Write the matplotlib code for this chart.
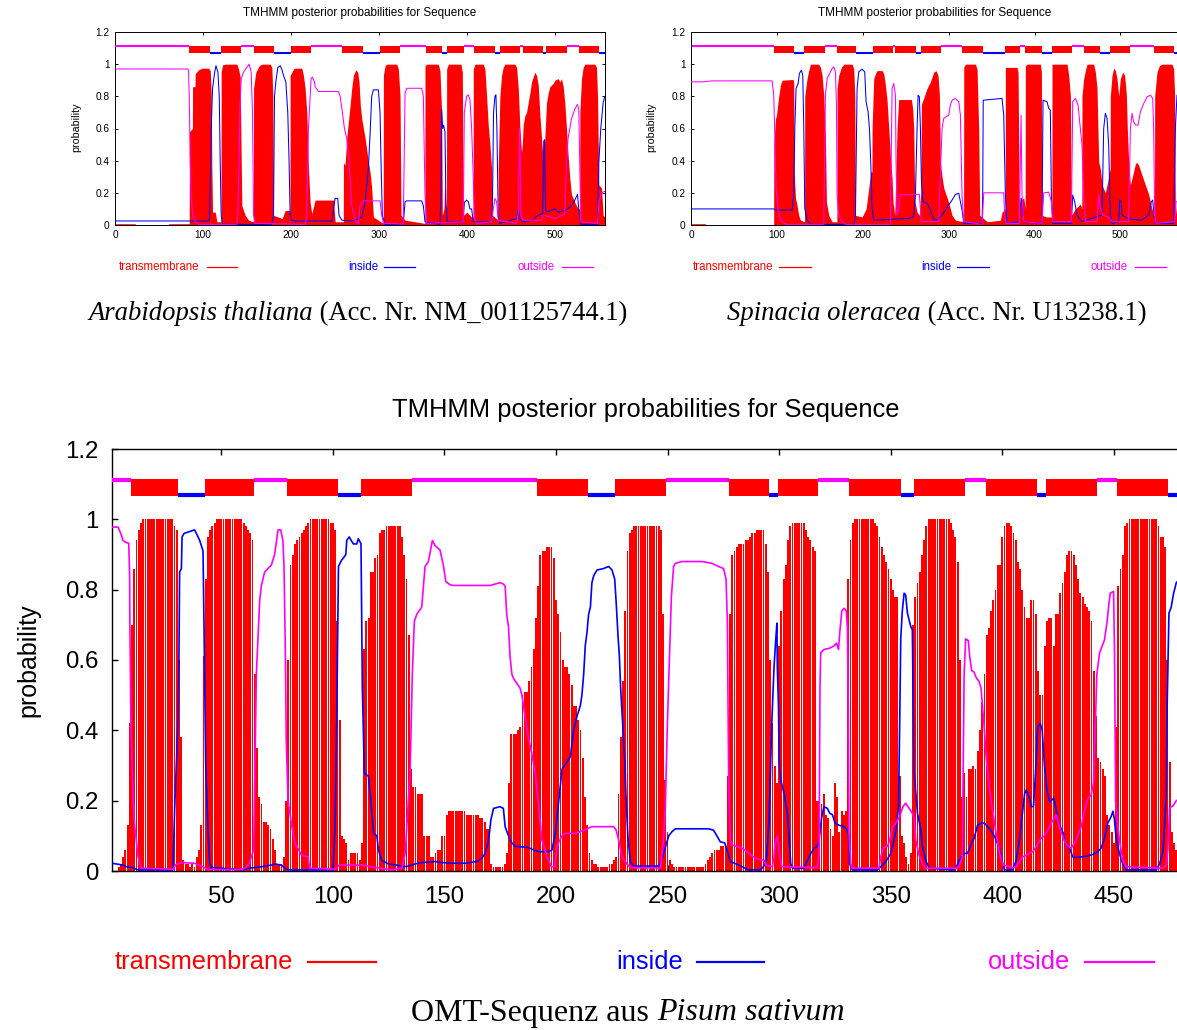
import numpy as np
import matplotlib
matplotlib.use("Agg")
import matplotlib.pyplot as plt
from matplotlib.lines import Line2D

plt.rcParams['font.family'] = ['Liberation Sans', 'DejaVu Sans']

RED, BLUE, MAG = '#ff0000', '#0000ff', '#ff00ff'

# ====================== Arabidopsis thaliana (top left) ======================
ara_length = 557
ara_tm = [(0, .008), (23, .008), (23, 0), (61, 0), (61, .008), (84, .008),
          (84.4, .008), (84.6, .58), (88, .6), (88.2, .86), (91, .86), (91.2, .94), (95, .965), (98.8, .975),
          (106.4, .975), (108.3, .96), (109.4, .8), (110.1, .35), (110.9, .08), (114, .08), (115.8, .02), (120.5, .02),
          (120.7, .95), (122.3, .995), (125.3, 1.0), (138.5, 1.0), (140.4, .97), (142.3, .92), (143.5, .39),
          (144.2, .12), (148, .06), (151.8, .03), (157.3, .02),
          (157.5, .85), (160.1, .95), (163.9, .99), (166.9, 1.0), (176.4, 1.0), (178.3, .98), (179.4, .8),
          (180.2, .06), (190, .04), (193.4, .09), (198.9, .09),
          (199.1, .93), (202.9, .97), (204.8, .975), (212.3, .975), (214.2, .93), (216.1, .85), (218, .7),
          (219.9, .35), (221.8, .14), (223.7, .07), (227.5, .155), (248.3, .155), (250.2, .02), (259.5, .02),
          (259.7, .39), (261.5, .37), (263.4, .54), (265.3, .64), (267.2, .74), (269.1, .85), (271, .93),
          (273.7, .965), (275.9, .95), (277.4, .89), (278.9, .74), (280.5, .66), (282.4, .6), (284.3, .54),
          (286.1, .47), (288, .39), (289.9, .33), (291.8, .23), (293.7, .05), (304.9, .01),
          (305.1, .93), (307, .99), (308.9, 1.0), (320.2, 1.0), (322.1, .97), (324, .8), (325.1, .06),
          (329.7, .03), (352.2, .01),
          (352.4, .99), (354.3, 1.0), (367.5, 1.0), (369.4, .96), (371.3, .7), (372.1, .06), (374, .1),
          (375, .33), (376, .1), (376.8, .05),
          (377, .97), (378.9, 1.0), (393.3, 1.0), (394.8, .95), (395.9, .06), (400, .08), (405, .05), (407.1, .05),
          (407.3, .97), (409.2, 1.0), (418.6, 1.0), (420.5, .97), (422.4, .8), (424.3, .62), (426.2, .5),
          (428.1, .35), (429.2, .06), (435.4, .03),
          (435.6, .35), (437.5, .8), (439.4, .93), (441.3, .98), (443.2, 1.0), (454.6, 1.0), (456.5, .98),
          (458.4, .85), (460.3, .6), (462.1, .45), (463, .5),
          (464, .62), (465.9, .68), (467.8, .7), (469.7, .76), (471.6, .82), (473.5, .89), (477.3, .95),
          (479.2, .93), (481.1, .87), (483, .68), (484.9, .54), (486.7, .39),
          (488.6, .54), (490.5, .76), (492.4, .82), (494.3, .86), (498.1, .88), (500, .9), (503.8, .91),
          (505.7, .89), (507.6, .91), (509.5, .86), (511.3, .76), (513.2, .6), (515.1, .43), (517, .29),
          (518.9, .19), (522.7, .14), (526.5, .1), (528.2, .1),
          (528.4, .7), (530.3, .91), (532.2, .98), (534.1, 1.0), (545.4, 1.0), (547.3, .98), (548.5, .8),
          (550, .25), (553, .23), (554.9, .06), (557, .05)]
ara_inside = [(0, .025), (106.4, .025), (107.5, .04), (109.4, .6), (110.9, .85), (113.3, .95), (114.8, .99),
              (117, .95), (118.5, .8), (119.6, .39), (120.7, .06), (122.3, .004), (178.3, .004), (180.2, .06),
              (181.3, .8), (182.8, .89), (185.1, .98), (187.7, .99), (189.6, .97), (191.5, .93), (194.2, .89),
              (196.4, .7), (197.9, .39), (199.1, .06), (201, .03), (204.8, .025), (246.8, .025), (248.3, .1),
              (250.2, .165), (253.2, .165), (254.7, .06), (257.8, .03), (269.1, .025), (272.9, .03), (280.5, .05),
              (284.3, .14), (288, .35), (289.9, .56), (291.8, .8), (293.7, .84), (299.4, .84), (301.3, .7),
              (302.4, .39), (303.9, .06), (307, .004), (327.7, .004), (329.7, .145), (331.6, .15), (348.6, .15),
              (350.5, .12), (352.4, .02), (369.4, .004), (370.6, .19), (371.3, .72), (372.5, .6), (373.6, .62),
              (375.1, .58), (376.2, .14), (377.7, .02), (395.9, .02), (397.1, .14), (399.7, .155), (401.6, .145),
              (403.5, .1), (405.4, .1), (407.3, .02), (428.1, .02), (429.2, .19), (430.3, .7), (431.9, .8),
              (433, .81), (434.1, .6), (435.6, .06), (437.5, .01), (456.5, .04), (458.4, .1), (460.3, .04),
              (464, .02), (475.4, .03), (478.5, .05), (481.1, .06), (486, .07), (487.4, .52), (488.2, .53),
              (489.4, .1), (490.5, .08), (500, .1), (503.8, .08), (511.3, .09), (514.5, .1), (518.9, .12),
              (522.7, .155), (525.7, .19), (527.2, .1), (529.5, .004), (548.5, .004), (550, .39), (552.2, .6),
              (554.9, .76), (556.8, .8)]
ara_outside = [(0, .97), (82.9, .97), (83.6, .96), (84.4, .8), (85.5, .39), (86.6, .19), (88.2, .06), (91.2, .02),
               (95, .004), (138.5, .004), (139.6, .06), (142.3, .76), (143.5, .91), (146.1, .95), (149.9, .98),
               (152.5, 1.0), (154.8, .95), (156.3, .7), (157.5, .06), (159.3, .01), (216.1, .004), (218, .06),
               (219.9, .6), (222.9, .91), (224.4, .92), (226.7, .89), (227.5, .86), (231.3, .83), (254, .83),
               (255.9, .8), (258.5, .7), (260.8, .6), (263.4, .54), (265.3, .43), (267.2, .29), (269.1, .12),
               (272.9, .03), (276.6, .005), (278.5, .12), (282.4, .15), (301.3, .15), (303.2, .06), (305.1, .01),
               (327.7, .005), (329.7, .82), (331.6, .85), (348.6, .85), (350.5, .8), (352.4, .19), (354.3, .01),
               (395.9, .02), (397.1, .7), (399.7, .8), (401.6, .81), (403.5, .78), (405.4, .6), (407.3, .29),
               (408.4, .04), (411.1, .01), (428.1, .02), (430, .1), (431.9, .165), (433.8, .145), (435.6, .03),
               (456.5, .01), (458.4, .08), (460, .6), (461.5, .06), (463.8, .03), (485, .03), (486.7, .06),
               (494.3, .05), (501.9, .04), (511.3, .07), (513.2, .39), (515.1, .54), (517, .6), (518.9, .66),
               (522.7, .72), (525.7, .75), (527.2, .72), (528.4, .35), (529.5, .02), (548.5, .01), (550, .14),
               (553, .2), (557, .21)]
ara_seg_kind = ['out', 'tm', 'in', 'tm', 'out', 'tm', 'in', 'tm', 'out', 'tm', 'in', 'tm', 'out', 'tm',
                'in', 'tm', 'out', 'tm', 'in', 'tm', 'out', 'tm', 'in', 'tm', 'out', 'tm', 'in']
ara_seg_start = [1, 85, 109, 121, 144, 158, 181, 200, 223, 259, 282, 302, 325, 354,
                 372, 378, 397, 409, 432, 438, 461, 464, 487, 491, 514, 528, 551]
ara_seg_end = [84, 108, 120, 143, 157, 180, 199, 222, 258, 281, 301, 324, 353, 371,
               377, 396, 408, 431, 437, 460, 463, 486, 490, 513, 527, 550, 557]

# ====================== Spinacia oleracea (top right) ======================
spi_length = 580
spi_tm = [(0, .008), (16.5, .008), (16.5, 0), (96, 0),
          (96.1, .5), (98.1, .66), (99.2, .68), (101.9, .8), (103.9, .87), (105.8, .9), (118.6, .905),
          (119.4, .88), (119.8, .33), (121.4, .17), (123.3, .12), (125.2, .06), (127.2, .03), (132, .02),
          (132.2, .8), (134.9, .91), (136.9, .96), (138.8, 1.0), (148.5, 1.0), (150.5, .98), (152.4, .93),
          (154.4, .8), (156.3, .54), (157.5, .14), (160.2, .06), (164.1, .02), (169.7, .02),
          (169.9, .85), (171.8, .93), (174.9, .98), (177.7, 1.0), (187.4, 1.0), (189.3, .97), (190.5, .8),
          (191.3, .06), (199, .05), (203.7, .1), (206.8, .23), (209.1, .33), (210.5, .33),
          (210.7, .6), (212.6, .91), (214.6, .94), (216.5, .96), (222.3, .96), (224.3, .94), (226.2, .87),
          (228.2, .77), (230.1, .6), (232, .43), (234, .29), (235.1, .14), (237.1, .06),
          (239.8, .6), (241.7, .78), (256.5, .78), (258, .72), (259.2, .6), (260.4, .15), (263.1, .08),
          (265.8, .06), (267.5, .2),
          (268.1, .75), (270.9, .79), (274.8, .85), (278.6, .89), (282.5, .95), (285.2, .96), (287.5, .93),
          (289.1, .81), (290.3, .39), (292.2, .3), (294.2, .23), (296.1, .2), (300, .14), (303.9, .06),
          (307.8, .03), (317.3, .02),
          (317.5, .98), (319.4, 1.0), (331.1, 1.0), (333, .97), (334.9, .6), (336.1, .06), (345, .02),
          (360.2, .03), (362.1, .08), (365.8, .1),
          (366, .98), (379.6, .98), (380.8, .95), (382.3, .06), (384, .15), (387.4, .17), (389.1, .1),
          (389.3, .99), (391.3, 1.0), (406.8, 1.0), (408, .95), (408.7, .06), (414, .05), (420.2, .05),
          (420.4, 1.0), (437.9, 1.0), (439.8, .93), (441.8, .8), (442.9, .06), (447.6, .1), (453.4, .13),
          (455.1, .1),
          (455.3, .8), (457.3, .91), (459.2, .96), (461.2, 1.0), (468.9, 1.0), (470.9, .95), (472.8, .85),
          (474.8, .39), (476.7, .35), (478.6, .25), (482.5, .2), (486.4, .3), (488.1, .35),
          (488.3, .8), (490.3, .93), (492.2, .975), (494.2, .96), (496.1, .91), (498.1, .8), (500, .91),
          (502.7, .95), (505, .93), (507, .81), (508.1, .6), (509.7, .39), (511.7, .25), (513.6, .29),
          (517.5, .38), (519.4, .39), (521.4, .37), (525.2, .31), (529.1, .25), (533, .19), (536.9, .1),
          (538.8, .06), (539.8, .06),
          (540, .8), (542.7, .95), (545.4, .99), (548.5, 1.0), (560.2, 1.0), (562.1, .97), (563.3, .8),
          (564.1, .06), (566, .15)]
spi_inside = [(0, .1), (96.1, .1), (98.1, .093), (117.5, .093), (119.4, .186), (120.6, .6), (122.1, .849),
              (124.5, .88), (126, .942), (128.3, .963), (129.9, .932), (131.1, .6), (132.2, .104), (134.9, .031),
              (138.8, .004), (189.3, .004), (191.3, .062), (193.2, .849), (195.1, .952), (199, .969),
              (202.1, .952), (203.7, .766), (206, .704), (207.6, .6), (209.1, .393), (210.7, .104), (212.6, .031),
              (222.3, .031), (237.9, .037), (253.3, .041), (259.2, .052), (261.2, .186), (263.1, .6),
              (264.3, .807), (265.8, .797), (267, .6), (268.1, .29), (269.7, .145), (274.8, .135), (278.6, .093),
              (280.6, .062), (282.5, .031), (286.4, .031), (288.3, .041), (292.2, .062), (296.1, .093),
              (300, .124), (303.9, .155), (307.8, .19), (311.7, .197), (315.5, .093), (317.5, .01), (338.8, .01),
              (339.6, .186), (340.2, .776), (362.1, .787), (364.1, .683), (366, .186), (367.9, .01),
              (382.3, .021), (384.3, .166), (385.4, .145), (387.4, .021), (408.7, .01), (409.9, .776),
              (414.6, .766), (416.5, .725), (418.4, .714), (419.6, .186), (421.2, .01), (442.9, .01),
              (444.5, .186), (446.8, .145), (449.5, .062), (455.3, .021), (478.6, .062), (480.6, .6),
              (482.5, .694), (484.5, .663), (486.4, .497), (488.3, .062), (490.3, .01), (498.1, .021),
              (499.2, .155), (501.2, .145), (501.9, .062), (509.7, .037), (525.2, .031), (533, .062),
              (536.1, .145), (537.7, .155), (539.2, .062), (540.8, .01), (562.1, .01), (564.1, .6), (566, .807)]
spi_outside = [(0, .89), (12.6, .89), (24.3, .896), (94.2, .896), (96.1, .807), (97.3, .559), (98.8, .228),
               (101.9, .062), (105.8, .021), (110, .004), (154.4, .004), (156.3, .807), (158.3, .911),
               (164.1, .973), (166, .983), (168, .952), (169.1, .766), (169.9, .186), (171.8, .062),
               (175.7, .021), (180, .004), (232, .004), (234, .849), (235.9, .88), (237.9, .807), (238.6, .393),
               (239.8, .062), (241.7, .104), (243.7, .19), (265.8, .19), (267, .104), (268.1, .021),
               (288.3, .021), (292.2, .6), (294.2, .663), (300, .683), (301.9, .745), (303.9, .776),
               (307.8, .787), (311.7, .766), (313.6, .683), (315.5, .186), (317.5, .021), (338.8, .004),
               (339.5, .062), (340.8, .2), (364.1, .2), (365.2, .062), (366.8, .01), (382.3, .01),
               (384.3, .683), (385.4, .186), (387.4, .021), (408.7, .01), (410.7, .2), (416.5, .204),
               (419.6, .145), (421.2, .021), (442.9, .021), (444.5, .766), (447.6, .787), (450.7, .745),
               (453.4, .6), (455.3, .497), (457.3, .186), (459.2, .021), (472.8, .021), (474.8, .19),
               (476.7, .104), (480, .06), (486, .05), (490.3, .021), (509.7, .021), (511.7, .6), (513.6, .694),
               (515.5, .642), (517.5, .621), (520.6, .621), (523.3, .704), (527.2, .755), (531.1, .797),
               (535, .807), (537.7, .787), (538.8, .6), (540, .062), (541.5, .01), (563.3, .021),
               (564.9, .145), (566, .145)]
spi_seg_kind = ['out', 'tm', 'in', 'tm', 'out', 'tm', 'in', 'tm', 'out', 'tm', 'in', 'tm', 'out', 'tm',
                'in', 'tm', 'out', 'tm', 'in', 'tm', 'out', 'tm', 'in', 'tm', 'out', 'tm', 'in']
spi_seg_start = [1, 97, 120, 132, 156, 170, 193, 212, 235, 238, 262, 268, 291, 316,
                 340, 366, 384, 389, 409, 421, 444, 458, 477, 489, 512, 540, 563]
spi_seg_end = [96, 119, 131, 155, 169, 192, 211, 234, 237, 261, 267, 290, 315, 339,
               365, 383, 388, 408, 420, 443, 457, 476, 488, 511, 539, 562, 580]

# ====================== Pisum sativum OMT (bottom) ======================
pis_length = 481
pis_tm_pct = [0, 0, 0, 1, 2, 4, 6, 13, 42, 70,
              86, 94, 97, 99, 100, 100, 100, 100, 100, 100,
              100, 100, 100, 100, 100, 100, 100, 100, 98, 97,
              60, 38, 3, 2, 2, 1, 2, 1, 4, 6,
              13, 61, 83, 95, 97, 98, 99, 100, 100, 100,
              100, 100, 100, 100, 100, 100, 100, 100, 100, 99,
              98, 97, 96, 94, 56, 35, 21, 19, 14, 14,
              13, 12, 9, 6, 2, 2, 2, 4, 20, 60,
              87, 90, 93, 94, 95, 96, 97, 98, 99, 100,
              100, 100, 100, 100, 100, 100, 100, 100, 99, 99,
              97, 71, 43, 10, 9, 8, 3, 5, 5, 5,
              5, 3, 8, 63, 71, 72, 85, 85, 89, 90,
              96, 97, 97, 98, 98, 98, 98, 98, 98, 98,
              95, 90, 83, 67, 29, 24, 24, 22, 22, 22,
              10, 10, 10, 4, 4, 5, 6, 6, 10, 10,
              16, 17, 17, 17, 17, 17, 17, 17, 17, 16,
              16, 16, 16, 16, 16, 15, 15, 14, 12, 12,
              2, 1, 1, 1, 1, 1, 2, 5, 25, 39,
              39, 39, 40, 41, 50, 51, 51, 54, 58, 63,
              72, 81, 90, 91, 91, 92, 92, 92, 89, 77,
              73, 68, 60, 58, 58, 56, 53, 47, 47, 43,
              40, 32, 21, 13, 5, 3, 2, 2, 1, 1,
              1, 1, 1, 2, 2, 3, 4, 22, 38, 54,
              74, 91, 96, 97, 98, 98, 98, 98, 98, 98,
              98, 98, 98, 98, 98, 98, 97, 73, 26, 11,
              3, 2, 1, 1, 1, 1, 1, 1, 1, 1,
              1, 1, 1, 1, 1, 1, 2, 3, 4, 5,
              6, 6, 6, 7, 7, 7, 27, 73, 90, 91,
              92, 93, 93, 93, 94, 94, 95, 96, 96, 97,
              97, 97, 97, 93, 85, 60, 42, 30, 25, 64,
              74, 83, 87, 94, 98, 99, 99, 99, 99, 99,
              99, 97, 95, 94, 92, 91, 20, 20, 19, 22,
              16, 15, 12, 10, 25, 21, 11, 17, 16, 17,
              83, 94, 99, 100, 100, 100, 100, 100, 100, 100,
              100, 100, 99, 98, 95, 92, 90, 88, 86, 83,
              80, 78, 78, 27, 10, 8, 4, 2, 5, 70,
              78, 82, 85, 90, 94, 98, 100, 100, 100, 100,
              100, 100, 100, 100, 100, 100, 99, 97, 95, 88,
              60, 21, 28, 21, 29, 29, 30, 29, 34, 40,
              48, 56, 67, 69, 74, 77, 80, 87, 87, 95,
              98, 99, 99, 98, 96, 94, 88, 86, 80, 75,
              72, 72, 77, 77, 73, 57, 50, 50, 64, 71,
              72, 72, 64, 73, 73, 79, 82, 85, 90, 91,
              91, 90, 87, 83, 79, 78, 76, 75, 74, 71,
              57, 44, 32, 31, 29, 27, 16, 13, 11, 8,
              41, 81, 86, 90, 98, 99, 100, 100, 100, 100,
              100, 100, 100, 100, 100, 100, 100, 100, 100, 98,
              95, 95, 92, 60, 31, 11, 8, 6, 5, 4]
pis_inside = [(1, .022), (5.9, .017), (7.5, .012), (10, .01), (12.7, .003), (28.3, .003), (29.1, .18),
              (30.6, .43), (31, .6), (31.3, .85), (32.1, .86), (32.4, .95), (33.3, .96), (38, .97), (38.8, .96),
              (40.3, .94), (41.8, .91), (42.5, .57), (43, .3), (44, .117), (44.8, .022), (45.5, .01), (50, .008),
              (59, .003), (62.5, .008), (67.9, .012), (72.4, .017), (73.9, .02), (76.9, .017), (78.4, .008),
              (79.9, .003), (100, .003), (100.2, .02), (101, .135), (101.7, .43), (102.5, .866), (104, .885),
              (104.7, .89), (105.8, .9), (106.2, .94), (107.3, .95), (108.2, .94), (109.2, .93), (110.7, .93),
              (111.4, .945), (112.6, .93), (113.2, .52), (114.1, .28), (114.7, .275), (115.9, .27),
              (116.7, .22), (117.4, .17), (118.2, .107), (119.7, .1), (120.4, .06), (121.9, .03), (124.9, .02),
              (128.6, .017), (131.6, .012), (133.9, .014), (136.8, .02), (139.8, .024), (145.8, .027),
              (148.8, .024), (153.3, .022), (159.3, .022), (164.5, .027), (166.7, .036), (168.2, .05),
              (169.7, .083), (170.8, .145), (172, .178), (174.9, .183), (176.4, .178), (177.2, .126),
              (178.7, .1), (180.2, .08), (181.7, .07), (187.6, .067), (189.9, .06), (192.1, .055),
              (196.7, .055), (198.2, .06), (199.7, .107), (201.2, .2), (202.7, .29), (204.9, .31),
              (206.4, .325), (207.9, .4), (209.4, .44), (210.9, .47), (211.6, .5), (212.4, .56), (213.1, .64),
              (213.9, .68), (214.6, .73), (215.4, .75), (216.1, .82), (216.9, .84), (218.4, .856),
              (221.3, .86), (223.6, .866), (225.1, .856), (226.3, .83), (226.9, .77), (227.8, .667),
              (228.4, .61), (229, .515), (229.6, .45), (230.8, .316), (231.3, .22), (232.2, .1), (233.3, .027),
              (234.8, .014), (246, .014), (247.2, .03), (248.7, .06), (250.5, .1), (252, .112), (253.5, .12),
              (268.4, .12), (270.6, .116), (272.1, .1), (273.6, .083), (275.6, .08), (277.1, .05),
              (278.1, .027), (281.9, .017), (286.3, .003), (291.6, .003), (293.2, .014), (294.3, .03),
              (295.5, .145), (296.7, .42), (297.7, .58), (298.5, .66), (299, .705), (299.2, .58), (299.7, .47),
              (300, .316), (300.7, .26), (302.2, .22), (303.7, .164), (304.4, .1), (305.2, .02), (306, .008),
              (311.2, .008), (312.7, .03), (314.2, .05), (315.7, .065), (317.1, .07), (317.9, .088),
              (319.1, .155), (320.1, .183), (321.6, .178), (322.7, .164), (323.9, .16), (325.1, .135),
              (326.9, .13), (329.1, .126), (330.1, .12), (331, .107), (331.6, .02), (332.8, .003), (344, .003),
              (345.5, .012), (347.8, .027), (350, .05), (351.5, .088), (352.6, .126), (353.5, .183), (354, .41),
              (354.5, .66), (355.2, .74), (356, .79), (356.7, .785), (357.5, .733), (359, .695), (359.7, .686),
              (360, .515), (360.5, .28), (362, .164), (363.5, .117), (364.2, .07), (365.7, .03), (367.2, .008),
              (377.7, .003), (379.2, .008), (380.6, .03), (382.9, .05), (384.4, .05), (385.9, .074),
              (387.4, .093), (388.9, .13), (390.5, .136), (392, .136), (393.5, .126), (394.3, .12),
              (395.8, .107), (397.3, .088), (398.8, .06), (400, .027), (401, .003), (404.7, .003), (406.2, .03),
              (407.7, .088), (409.2, .174), (410, .22), (410.7, .23), (412.2, .207), (413, .183), (414, .183),
              (414.9, .28), (415.9, .41), (417, .42), (417.9, .4), (418.9, .3), (420, .23), (421.2, .197),
              (421.9, .2), (423, .207), (423.9, .183), (424.9, .145), (426.4, .12), (427.4, .107),
              (428.3, .074), (430.1, .065), (431.6, .04), (433.1, .038), (437.6, .042), (440.6, .047),
              (442.8, .055), (444.3, .065), (445.8, .093), (447.3, .136), (448.8, .155), (449.6, .17),
              (450.3, .145), (451.1, .088), (452.5, .05), (454, .02), (455.5, .003), (469, .003), (470.5, .02),
              (472, .055), (472.7, .126), (473.5, .22), (473.9, .47), (474.7, .733), (475.7, .75), (476.8, .79),
              (478, .82), (481, .84)]
pis_outside = [(1, .978), (3.7, .978), (5.2, .956), (5.9, .94), (7.4, .934), (8.5, .932), (8.9, .842), (9.0, .71),
               (9.5, .41), (10.5, .2), (11.2, .126), (12.7, .04), (14.1, .008), (28.5, .005), (29.5, .018),
               (32.4, .024), (38, .022), (41.8, .012), (44, .004), (59, .004), (60.5, .008), (62.5, .022),
               (64.5, .06), (65.7, .56), (67.2, .77), (67.9, .81), (69.4, .85), (70.9, .86), (72.4, .87),
               (73.9, .9), (75.4, .97), (76.6, .97), (77.6, .94), (78.1, .866), (78.7, .62), (79.1, .37),
               (79.9, .2), (81.4, .135), (82.9, .08), (85.9, .045), (88.9, .04), (89.6, .008), (101, .005),
               (102.8, .017), (113, .017), (118.9, .01), (126.4, .003), (130.9, .008), (132.4, .05),
               (134.6, .28), (135.6, .56), (136.5, .71), (137.6, .73), (139.8, .75), (140.6, .81), (141.3, .866),
               (142.8, .88), (144.6, .94), (145.8, .925), (148, .913), (149.5, .87), (150.6, .823),
               (152.5, .814), (154, .812), (170.5, .812), (172.7, .816), (174.9, .82), (176.4, .816),
               (177.2, .81), (177.9, .73), (178.7, .695), (179.4, .61), (180.2, .56), (180.9, .548),
               (182.4, .534), (183.9, .52), (184.7, .5), (186.1, .44), (187.6, .38), (189.1, .335),
               (190.6, .28), (192.1, .2), (193.6, .09), (196, .04), (198, .012), (199.5, .012), (200.4, .07),
               (202.6, .1), (204, .107), (208.6, .107), (213, .117), (216, .126), (225.8, .126), (226.9, .117),
               (228, .09), (229.6, .04), (231.8, .02), (233.3, .01), (246.8, .009), (248.2, .09), (249, .18),
               (249.7, .37), (250.5, .54), (251.7, .78), (252.7, .866), (253.5, .875), (256.4, .88),
               (265.4, .88), (269.9, .875), (272.1, .868), (275.1, .86), (276.2, .83), (276.8, .705),
               (277.4, .24), (278.1, .09), (278.9, .074), (283.4, .065), (286.4, .05), (289.4, .036),
               (293.3, .03), (294, .017), (297, .012), (297.7, .04), (298.2, .08), (299.2, .1), (300.3, .04),
               (301.2, .012), (317.1, .01), (317.9, .05), (318.3, .52), (318.6, .62), (320.1, .63),
               (322.4, .633), (324.6, .64), (325.7, .648), (326.6, .63), (327.2, .68), (328.1, .74),
               (329.1, .747), (330.1, .74), (330.6, .69), (331, .45), (331.3, .107), (332.1, .02), (332.8, .008),
               (344.8, .008), (345.5, .04), (346.6, .065), (348.5, .07), (349.6, .088), (350.8, .126),
               (352.3, .136), (354, .155), (355.5, .183), (356.7, .193), (358.2, .179), (359.7, .164),
               (360.5, .15), (361.2, .088), (362.7, .045), (364.2, .022), (365.7, .008), (379.2, .008),
               (380.6, .012), (382.1, .04), (382.9, .56), (383.6, .66), (384.8, .655), (385.4, .61),
               (386.3, .57), (387.4, .565), (388.3, .55), (389.5, .54), (390.5, .52), (392, .4), (392.8, .325),
               (394.3, .23), (396.5, .136), (398.8, .05), (400.3, .017), (404.7, .01), (406.2, .012),
               (407.7, .027), (409.2, .04), (412.2, .05), (413.7, .055), (415.2, .07), (417.4, .093),
               (418.9, .1), (420.4, .116), (421.9, .136), (424.2, .16), (426.4, .11), (428.6, .074),
               (430.9, .065), (433.1, .088), (435.4, .126), (436.9, .174), (438.4, .207), (439.8, .216),
               (440.9, .25), (441.8, .44), (442.4, .56), (443.6, .62), (444.8, .64), (445.8, .657),
               (446.9, .705), (447.8, .76), (448.4, .79), (449.9, .795), (450.3, .62), (450.8, .2),
               (451.7, .136), (452.5, .088), (454, .03), (455.5, .012), (472, .008), (473.5, .017),
               (474.2, .06), (475, .18), (476.5, .185), (478, .2), (481, .21)]
pis_seg_kind = ['out', 'tm', 'in', 'tm', 'out', 'tm', 'in', 'tm', 'out', 'tm', 'in', 'tm', 'out', 'tm',
                'in', 'tm', 'out', 'tm', 'in', 'tm', 'out', 'tm', 'in', 'tm', 'out', 'tm', 'in']
pis_seg_start = [1, 10, 31, 43, 65, 80, 103, 113, 136, 192, 215, 227, 250, 278,
                 296, 300, 318, 332, 355, 361, 384, 393, 416, 420, 443, 452, 475]
pis_seg_end = [9, 30, 42, 64, 79, 102, 112, 135, 191, 214, 226, 249, 277, 295,
               299, 317, 331, 354, 360, 383, 392, 415, 419, 442, 451, 474, 481]

yticks = [0, 0.2, 0.4, 0.6, 0.8, 1.0, 1.2]
ytick_labels = ['0', '0.2', '0.4', '0.6', '0.8', '1', '1.2']
title_text = 'TMHMM posterior probabilities for Sequence'

W, H = 1177, 1030
fig = plt.figure(figsize=(W / 100, H / 100), dpi=100)


def fx(px):
    return px / W


def fy(py):
    return 1 - py / H


def draw_segments(ax, kinds, starts, ends, lw):
    for k, s, e in zip(kinds, starts, ends):
        if k == 'tm':
            ax.broken_barh([(s - 0.5, e - s + 1)], (1.067, 0.047), facecolors=RED, lw=0, zorder=4)
        elif k == 'in':
            ax.hlines(1.0695, s - 0.5, e + 0.5, color=BLUE, lw=lw, zorder=4)
        else:
            ax.hlines(1.1115, s - 0.5, e + 0.5, color=MAG, lw=lw, zorder=4)


def style_axes(ax, xlim, xticks, size, ticklen, spine_w, xpad, ypad):
    ax.set_xlim(*xlim)
    ax.set_ylim(0, 1.2)
    ax.set_xticks(xticks)
    ax.set_yticks(yticks)
    ax.set_yticklabels(ytick_labels)
    ax.tick_params(direction='in', top=True, right=True, length=ticklen, width=spine_w,
                   labelsize=size)
    ax.tick_params(axis='x', pad=xpad)
    ax.tick_params(axis='y', pad=ypad)
    for sp in ax.spines.values():
        sp.set_linewidth(spine_w)


def top_panel(rect, tm, inside, outside, kinds, starts, ends, length):
    ax = fig.add_axes(rect)
    tx, ty = zip(*tm)
    ax.fill_between(tx, ty, 0, color=RED, lw=0, zorder=2)
    ix, iy = zip(*inside)
    ox, oy = zip(*outside)
    ax.plot(ix, iy, color=BLUE, lw=0.75, zorder=3)
    ax.plot(ox, oy, color=MAG, lw=0.75, zorder=3)
    draw_segments(ax, kinds, starts, ends, 1.5)
    style_axes(ax, (0, length), list(range(0, 600, 100)), 7.3, 2.5, 0.7, 3.5, 4)
    return ax


# ---- top left
axA = top_panel([fx(115), fy(225), fx(605) - fx(115), (225 - 32) / H],
                ara_tm, ara_inside, ara_outside, ara_seg_kind, ara_seg_start, ara_seg_end, ara_length)
# ---- top right
axB = top_panel([fx(691.3), fy(225), fx(1189) - fx(691.3), (225 - 32) / H],
                spi_tm, spi_inside, spi_outside, spi_seg_kind, spi_seg_start, spi_seg_end, spi_length)

# ---- bottom
axC = fig.add_axes([fx(112), fy(871), fx(1183) - fx(112), (871 - 449) / H])
res = np.arange(1, len(pis_tm_pct) + 1)
axC.bar(res, np.array(pis_tm_pct) / 100.0, width=0.82, color=RED, lw=0, antialiased=False, zorder=2)
ix, iy = zip(*pis_inside)
ox, oy = zip(*pis_outside)
axC.plot(ix, iy, color=BLUE, lw=1.2, zorder=3)
axC.plot(ox, oy, color=MAG, lw=1.2, zorder=3)
draw_segments(axC, pis_seg_kind, pis_seg_start, pis_seg_end, 3.0)
style_axes(axC, (1, pis_length), list(range(50, 500, 50)), 17.3, 4.5, 1.0, 11, 10)

# ---- titles and y labels
fig.text(fx(360), fy(13), title_text, ha='center', va='center', fontsize=8.5)
fig.text(fx(935), fy(13), title_text, ha='center', va='center', fontsize=8.5)
fig.text(fx(646), fy(410), title_text, ha='center', va='center', fontsize=18.4)
fig.text(fx(76), fy(127), 'probability', rotation=90, ha='center', va='center', fontsize=7.7)
fig.text(fx(651), fy(127), 'probability', rotation=90, ha='center', va='center', fontsize=7.7)
fig.text(fx(28), fy(660), 'probability', rotation=90, ha='center', va='center', fontsize=18)


# ---- key rows (text right-aligned before sample line, as in gnuplot)
def key(label, color, text_right, x0, x1, y, size, lw):
    fig.text(fx(text_right), fy(y), label, color=color, ha='right', va='center', fontsize=size)
    fig.add_artist(Line2D([fx(x0), fx(x1)], [fy(y), fy(y)], color=color, lw=lw))


for lab, col, tr, a, b in [('transmembrane', RED, 199, 207, 237), ('inside', BLUE, 378, 384, 415),
                           ('outside', MAG, 555, 562, 593)]:
    key(lab, col, tr, a, b, 267, 8.3, 0.9)
for lab, col, tr, a, b in [('transmembrane', RED, 773, 779, 811), ('inside', BLUE, 951, 957, 989),
                           ('outside', MAG, 1128, 1135, 1166)]:
    key(lab, col, tr, a, b, 267, 8.3, 0.9)
for lab, col, tr, a, b in [('transmembrane', RED, 293, 308, 376), ('inside', BLUE, 683, 697, 764),
                           ('outside', MAG, 1070, 1085, 1154)]:
    key(lab, col, tr, a, b, 962, 18.3, 1.6)

# ---- captions (serif, with italic species names)
renderer = fig.canvas.get_renderer()


def caption(parts, xc, y, size):
    objs = []
    for s, st in parts:
        t = fig.text(0, fy(y), s, fontsize=size, family=['Liberation Serif', 'DejaVu Serif'],
                     style=st, ha='left', va='center')
        objs.append(t)
    widths = [t.get_window_extent(renderer=renderer).width for t in objs]
    x = xc - sum(widths) / 2
    for t, w in zip(objs, widths):
        t.set_x(fx(x))
        x += w


caption([('Arabidopsis thaliana', 'italic'), ('\u00a0(Acc. Nr. NM_001125744.1)', 'normal')], 358, 314, 19.2)
caption([('Spinacia oleracea', 'italic'), ('\u00a0(Acc. Nr. U13238.1)', 'normal')], 937, 314, 19.2)
caption([('OMT-Sequenz aus\u00a0', 'normal'), ('Pisum sativum', 'italic')], 628, 1013, 23)

fig.savefig('out.png', dpi=100)
